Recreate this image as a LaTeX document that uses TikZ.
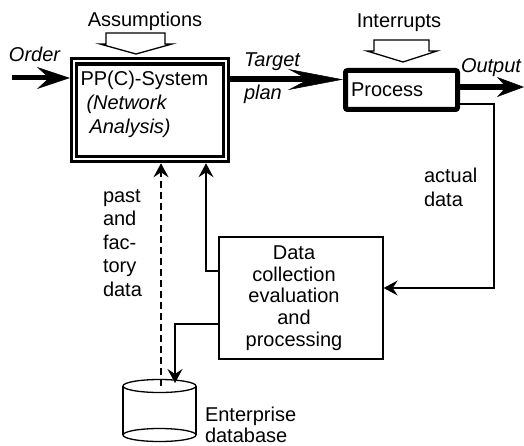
\documentclass[tikz,border=0pt]{standalone}
\usepackage{fontspec}
\setmainfont{Liberation Sans}
\usetikzlibrary{arrows.meta,calc}

\begin{document}
\begin{tikzpicture}[x=1pt,y=-1pt,
  txt/.style={font=\fontsize{20}{24}\selectfont, inner sep=0pt, outer sep=0pt},
  itxt/.style={txt, font=\fontsize{20}{24}\selectfont\itshape},
  wire/.style={line width=1.3pt},
  wirearrow/.style={wire, -{Stealth[length=14pt,width=15pt,inset=5pt]}},
  hollow/.style={line width=1.3pt, line join=miter}
]
\useasboundingbox (0,0) rectangle (524,446);

% planning system with a double frame
\node[draw, line width=3.2pt, double, double distance=2.1pt,
      minimum width=151.6pt, minimum height=97.7pt,
      inner sep=0pt, outer sep=4.25pt] (pp) at (150,110.2) {};
\node[txt, anchor=north west, align=left] (pplabel) at (80.5,71.4)
  {PP(C)-System\\\hspace*{6pt}\textit{(Network}\\\hspace*{9pt}\textit{Analysis)}};

% process box
\node[draw, line width=5pt, rounded corners=2pt,
      minimum width=112pt, minimum height=39pt,
      inner sep=0pt, outer sep=2.5pt] (proc) at (401.5,90) {};
\node[txt, anchor=base west] (proclabel) at (351,97) {Process};

% data processing box
\node[draw, line width=1.3pt, minimum width=164pt, minimum height=122pt,
      inner sep=0pt, outer sep=0.65pt] (data) at (301,298) {};
\node[txt, anchor=north, align=center, font=\fontsize{20}{21.75}\selectfont]
  (datalabel) at (294,245.7) {Data\\collection\\evaluation\\and\\processing};

% database cylinder
\node[minimum width=73pt, minimum height=49pt, inner sep=0pt, outer sep=0pt] (db) at (159.5,410.5) {};
\draw[wire] (db.north west) -- (db.south west) (db.north east) -- (db.south east);
\draw[wire] (db.north) ellipse [x radius=36.5pt, y radius=6.5pt];
\draw[wire] (db.south) ellipse [x radius=36.5pt, y radius=6.5pt];
\node[txt, anchor=north west, align=left, font=\fontsize{20}{21}\selectfont]
  (dblabel) at (205,406.7) {Enterprise\\database};

% influences from above
\node[txt, anchor=base] (assume) at (145,27) {Assumptions};
\draw[hollow] (106,33) -- (106,44) -- (100,44) -- (136,54) -- (172,44) -- (165,44) -- (165,33) -- cycle;
\node[txt, anchor=base] (interrupt) at (399,28) {Interrupts};
\draw[hollow] (374,40) -- (374,51) -- (367,51) -- (403,62) -- (437,51) -- (429,51) -- (429,40) -- cycle;

% main flow
\coordinate (ordstart) at (12,78);
\draw[line width=5pt, -{Stealth[length=33pt,width=22pt,inset=12pt,line width=0.5pt]}]
  (ordstart) -- (ordstart -| pp.west);
\node[itxt, anchor=base west] (order) at (9,62) {Order};

\coordinate (tgtrow) at (0,79.5);
\draw[line width=6pt, -{Stealth[length=55pt,width=21pt,inset=20pt,line width=0.5pt]}]
  (pp.east |- tgtrow) -- (proc.west |- tgtrow);
\node[itxt, anchor=north west, align=left, font=\fontsize{20}{33}\selectfont\itshape]
  (target) at (244,52.7) {Target\\plan};

\coordinate (outend) at (524,87);
\draw[line width=6pt, -{Stealth[length=27pt,width=20pt,inset=9pt,line width=0.5pt]}]
  (proc.east |- outend) -- (outend);
\node[itxt, anchor=base west] (output) at (461,73) {Output};

% feedback loop
\coordinate (fbtop) at (494,104);
\coordinate (fbbot) at (494,288);
\draw[wirearrow] (proc.east |- fbtop) -- (fbtop) -- (fbbot) -- (data.east |- fbbot);
\node[txt, anchor=north west, align=left] (actual) at (424,168.5) {actual\\data};

\coordinate (upbend) at (206,271);
\draw[wirearrow] (data.west |- upbend) -- (upbend) -- (upbend |- pp.south);

\coordinate (dnbend) at (175,324);
\coordinate (dbin) at ($(dnbend |- db.north)+(0,-3)$);
\draw[wirearrow] (data.west |- dnbend) -- (dnbend) -- (dbin);

% stored data fed back to planning
\coordinate (dbtap) at ($(db.north)+(1.5,0)$);
\draw[line width=2pt, dash pattern=on 7pt off 4pt, -{Stealth[length=14pt,width=15pt,inset=5pt]}]
  (dbtap) -- (dbtap |- pp.south);
\node[txt, anchor=north west, align=left, font=\fontsize{20}{23.5}\selectfont]
  (pastlabel) at (103,189.5) {past\\and\\fac-\\tory\\data};
\end{tikzpicture}
\end{document}
